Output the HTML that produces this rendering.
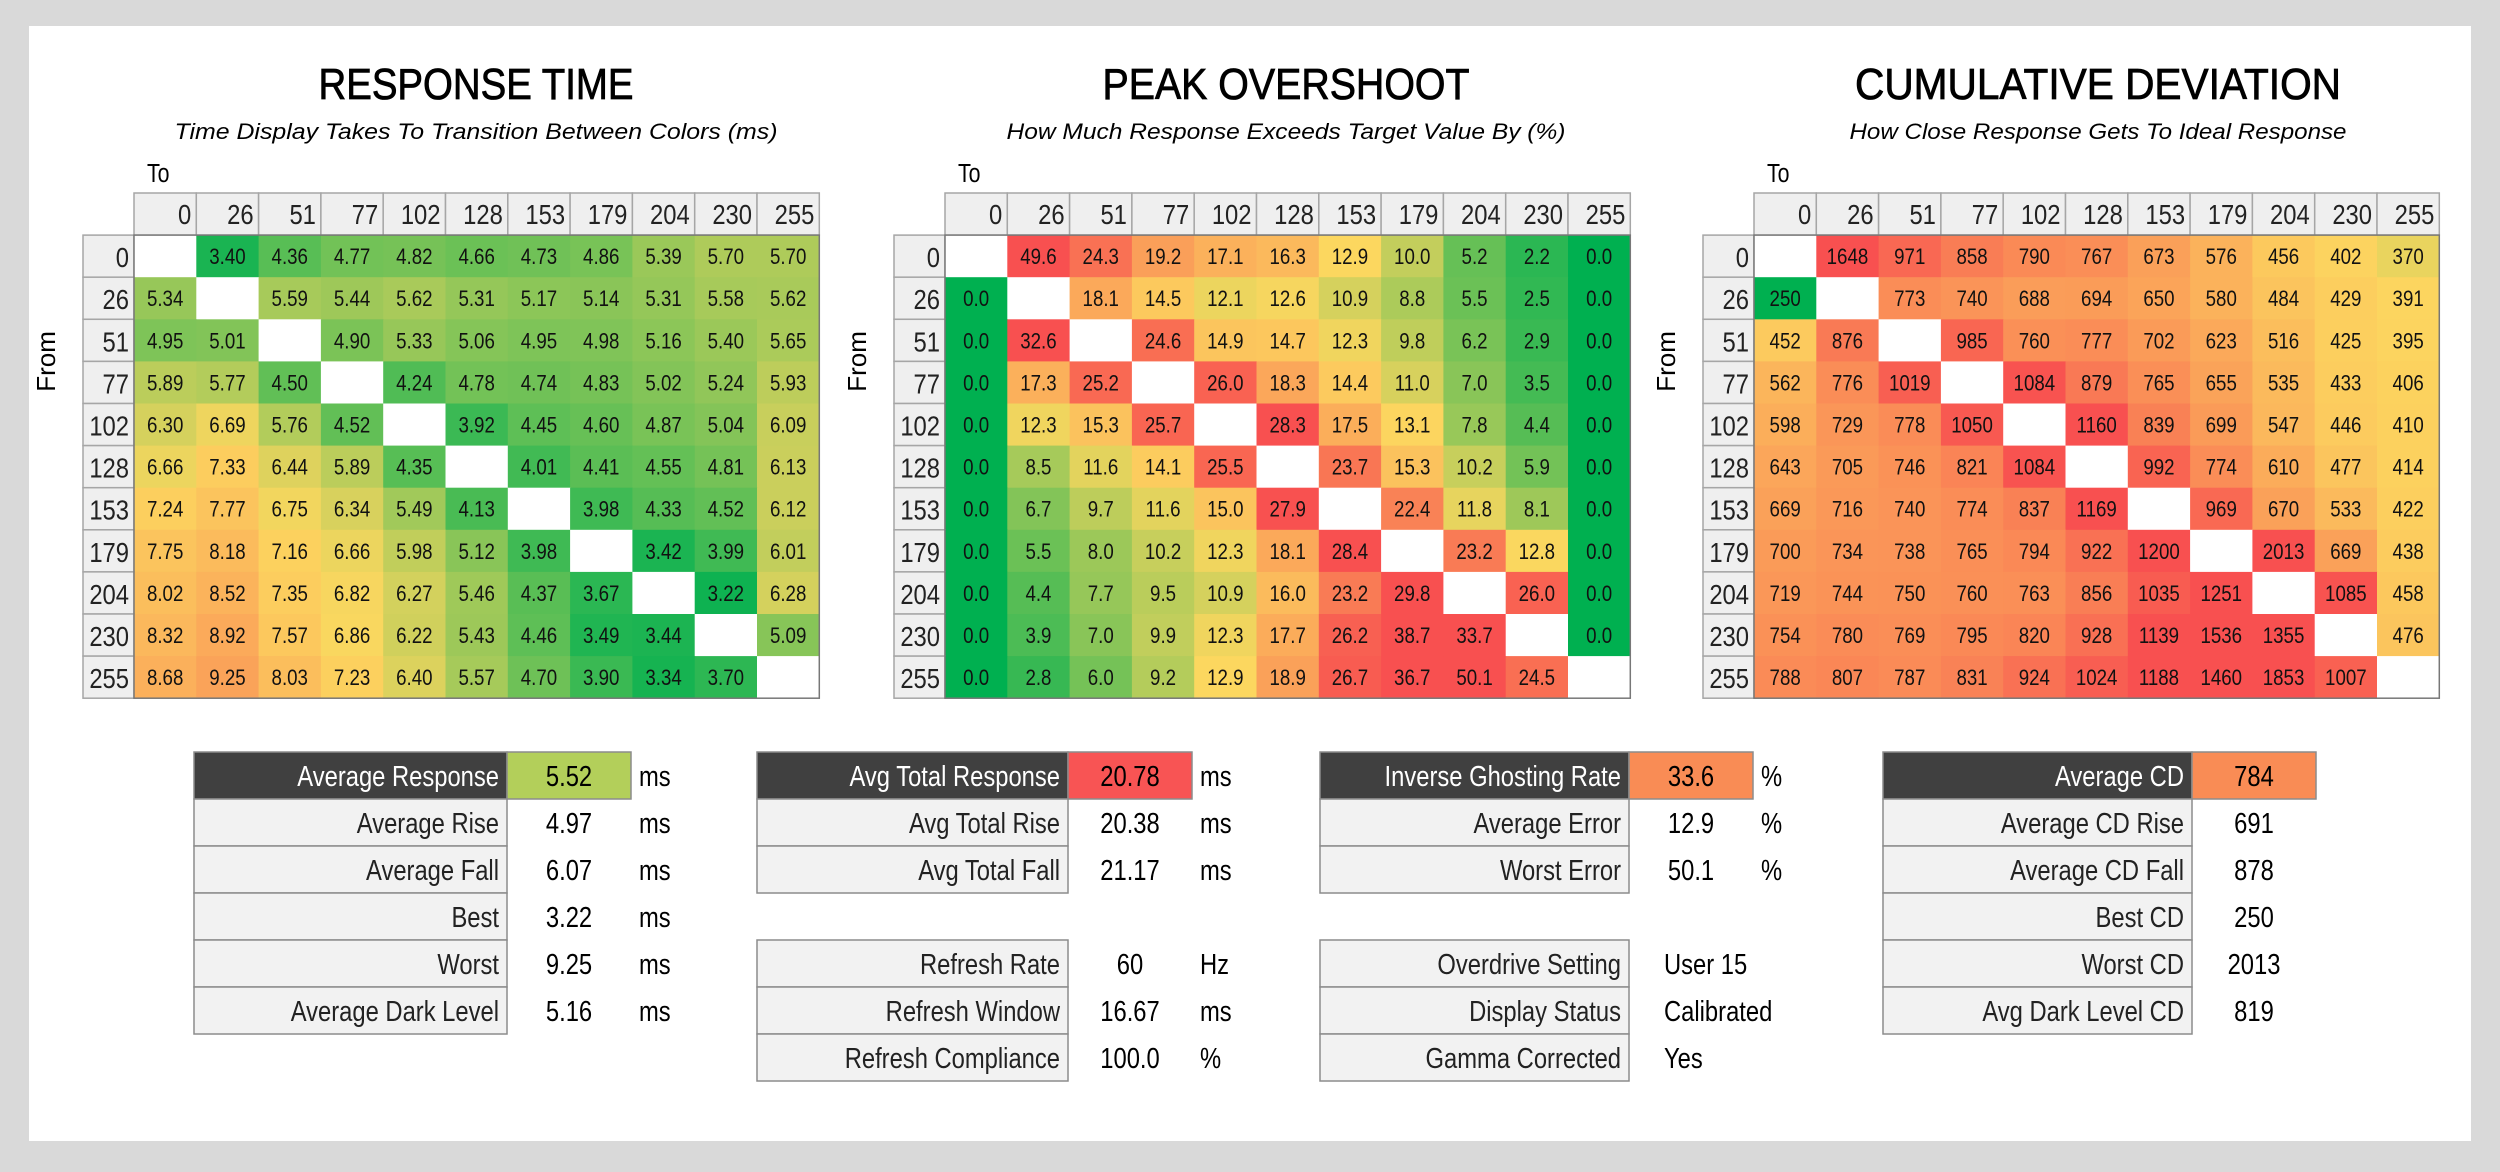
<!DOCTYPE html>
<html><head><meta charset="utf-8"><style>
html,body{margin:0;padding:0;background:#d9d9d9;}
svg{display:block;}
text{font-family:"Liberation Sans",sans-serif;}
</style></head><body>
<svg id="chart" xmlns="http://www.w3.org/2000/svg" width="2500" height="1172" viewBox="0 0 2500 1172">
<rect x="0" y="0" width="2500" height="1172" fill="#d9d9d9"/>
<rect x="29" y="26" width="2442" height="1115" fill="#ffffff"/>
</svg>
<script>
const levels = ["0","26","51","77","102","128","153","179","204","230","255"];
const rtValues = [
[null,3.40,4.36,4.77,4.82,4.66,4.73,4.86,5.39,5.70,5.70],
[5.34,null,5.59,5.44,5.62,5.31,5.17,5.14,5.31,5.58,5.62],
[4.95,5.01,null,4.90,5.33,5.06,4.95,4.98,5.16,5.40,5.65],
[5.89,5.77,4.50,null,4.24,4.78,4.74,4.83,5.02,5.24,5.93],
[6.30,6.69,5.76,4.52,null,3.92,4.45,4.60,4.87,5.04,6.09],
[6.66,7.33,6.44,5.89,4.35,null,4.01,4.41,4.55,4.81,6.13],
[7.24,7.77,6.75,6.34,5.49,4.13,null,3.98,4.33,4.52,6.12],
[7.75,8.18,7.16,6.66,5.98,5.12,3.98,null,3.42,3.99,6.01],
[8.02,8.52,7.35,6.82,6.27,5.46,4.37,3.67,null,3.22,6.28],
[8.32,8.92,7.57,6.86,6.22,5.43,4.46,3.49,3.44,null,5.09],
[8.68,9.25,8.03,7.23,6.40,5.57,4.70,3.90,3.34,3.70,null]];
const osValues = [
[null,49.6,24.3,19.2,17.1,16.3,12.9,10.0,5.2,2.2,0.0],
[0.0,null,18.1,14.5,12.1,12.6,10.9,8.8,5.5,2.5,0.0],
[0.0,32.6,null,24.6,14.9,14.7,12.3,9.8,6.2,2.9,0.0],
[0.0,17.3,25.2,null,26.0,18.3,14.4,11.0,7.0,3.5,0.0],
[0.0,12.3,15.3,25.7,null,28.3,17.5,13.1,7.8,4.4,0.0],
[0.0,8.5,11.6,14.1,25.5,null,23.7,15.3,10.2,5.9,0.0],
[0.0,6.7,9.7,11.6,15.0,27.9,null,22.4,11.8,8.1,0.0],
[0.0,5.5,8.0,10.2,12.3,18.1,28.4,null,23.2,12.8,0.0],
[0.0,4.4,7.7,9.5,10.9,16.0,23.2,29.8,null,26.0,0.0],
[0.0,3.9,7.0,9.9,12.3,17.7,26.2,38.7,33.7,null,0.0],
[0.0,2.8,6.0,9.2,12.9,18.9,26.7,36.7,50.1,24.5,null]];
const cdValues = [
[null,1648,971,858,790,767,673,576,456,402,370],
[250,null,773,740,688,694,650,580,484,429,391],
[452,876,null,985,760,777,702,623,516,425,395],
[562,776,1019,null,1084,879,765,655,535,433,406],
[598,729,778,1050,null,1160,839,699,547,446,410],
[643,705,746,821,1084,null,992,774,610,477,414],
[669,716,740,774,837,1169,null,969,670,533,422],
[700,734,738,765,794,922,1200,null,2013,669,438],
[719,744,750,760,763,856,1035,1251,null,1085,458],
[754,780,769,795,820,928,1139,1536,1355,null,476],
[788,807,787,831,924,1024,1188,1460,1853,1007,null]];

const t1Labels = ["Average Response","Average Rise","Average Fall","Best","Worst","Average Dark Level"];
const t1Values = ["5.52","4.97","6.07","3.22","9.25","5.16"];
const t2aLabels = ["Avg Total Response","Avg Total Rise","Avg Total Fall"];
const t2aValues = ["20.78","20.38","21.17"];
const t2bLabels = ["Refresh Rate","Refresh Window","Refresh Compliance"];
const t2bValues = ["60","16.67","100.0"];
const t2bUnits = ["Hz","ms","%"];
const t3aLabels = ["Inverse Ghosting Rate","Average Error","Worst Error"];
const t3aValues = ["33.6","12.9","50.1"];
const t3bLabels = ["Overdrive Setting","Display Status","Gamma Corrected"];
const t3bValues = ["User 15","Calibrated","Yes"];
const t4Labels = ["Average CD","Average CD Rise","Average CD Fall","Best CD","Worst CD","Avg Dark Level CD"];
const t4Values = ["784","691","878","250","2013","819"];

const NS = "http://www.w3.org/2000/svg";
const svg = document.getElementById("chart");
const GREEN=[0,176,80], YEL=[252,215,95], RED=[248,80,80];
function mix(a,b,t){t=Math.max(0,Math.min(1,t));return "rgb("+a.map((v,i)=>Math.round(v+(b[i]-v)*t)).join(",")+")";}
function scaleColor(v,lo,mid,hi){ if(v<=mid) return mix(GREEN,YEL,(v-lo)/(mid-lo)); return mix(YEL,RED,(v-mid)/(hi-mid)); }
function mkRect(x,y,w,h,fill,stroke){const r=document.createElementNS(NS,"rect");r.setAttribute("x",x);r.setAttribute("y",y);r.setAttribute("width",w);r.setAttribute("height",h);r.setAttribute("fill",fill);if(stroke){r.setAttribute("stroke",stroke);r.setAttribute("stroke-width","1.5");}svg.appendChild(r);return r;}
function mkText(x,y,str,size,anchor,fill,sx,extra){const g=document.createElementNS(NS,"g");g.setAttribute("transform","translate("+x+","+y+") scale("+(sx||0.82)+",1)");const t=document.createElementNS(NS,"text");t.setAttribute("x",0);t.setAttribute("y",0);t.setAttribute("font-size",size);t.setAttribute("text-anchor",anchor||"start");t.setAttribute("fill",fill||"#000");if(extra)for(const k in extra)t.setAttribute(k,extra[k]);t.textContent=str;g.appendChild(t);svg.appendChild(g);return t;}

function drawPanel(off,titleCx,title,titleW,sub,subW,values,lo,mid,hi,fmt,key){
  let e;
  e=mkText(titleCx,99,title,44,"middle","#000",1,{"textLength":titleW,"lengthAdjust":"spacingAndGlyphs","stroke":"#000","stroke-width":"0.8"});
  
  
  e=mkText(titleCx,139,sub,22,"middle","#000",1,{"font-style":"italic","textLength":subW,"lengthAdjust":"spacingAndGlyphs"});
  
  
  const x0=83+off, cx0=134+off, cw=62.3, y0=193, rh=42.1;
  e=mkText(x0+64,182,"To",26,"start");
  
  
  e=mkText(0,0,"From",26,"middle","#000",1,{"transform":"rotate(-90)"});
  e.parentNode.setAttribute("transform","translate("+(x0-28)+","+(y0+rh+3*rh)+")");
  
  
  for(let j=0;j<levels.length;j++){
    e=mkRect(cx0+j*cw,y0,cw,rh,"#efefef","#a6a6a6");
    
    
    e=mkText(cx0+(j+1)*cw-5,y0+31,levels[j],28,"end","#222",0.85);
    
    
  }
  for(let i=0;i<levels.length;i++){
    const y=y0+(i+1)*rh;
    e=mkRect(x0,y,cx0-x0,rh,"#efefef","#a6a6a6");
    
    
    e=mkText(cx0-5,y+32,levels[i],28,"end","#222",0.85);
    
    
    for(let j=0;j<levels.length;j++){
      const v=values[i][j];
      const fill = v===null ? "#ffffff" : scaleColor(v,lo,mid,hi);
      e=mkRect(cx0+j*cw,y,cw+0.5,rh+0.5,fill,null);
      
      
      if(v!==null){
        e=mkText(cx0+j*cw+cw/2,y+29,fmt(v),22,"middle","#111",0.85);
        
        
      }
    }
  }
  const b=document.createElementNS(NS,"rect");
  b.setAttribute("x",cx0);b.setAttribute("y",y0+rh);b.setAttribute("width",cw*11);b.setAttribute("height",rh*11);
  b.setAttribute("fill","none");b.setAttribute("stroke","#777");b.setAttribute("stroke-width","1.5");
  
  
  svg.appendChild(b);
}
drawPanel(0,476,"RESPONSE TIME",315,"Time Display Takes To Transition Between Colors (ms)",603,rtValues,3.0,6.9,13,v=>v.toFixed(2),"response-time");
drawPanel(811,1286,"PEAK OVERSHOOT",367,"How Much Response Exceeds Target Value By (%)",559,osValues,0,12.9,28,v=>v.toFixed(1),"peak-overshoot");
drawPanel(1620,2098,"CUMULATIVE DEVIATION",486,"How Close Response Gets To Ideal Response",497,cdValues,250,380,1100,v=>String(v),"cumulative-deviation");

const RH=47, TY=752;
function statRow(key,lL,lR,vR,y,label,value,unit,dark,hi,valLeft){
  let e;
  e=mkRect(lL,y,lR-lL,RH,dark?"#404040":"#f2f2f2","#8c8c8c");
  
  
  if(hi){
    e=mkRect(lR,y,vR-lR,RH,hi,"#8c8c8c");
    
    
  }
  e=mkText(lR-8,y+34,label,29,"end",dark?"#ffffff":"#222",0.82);
  
  
  e=valLeft? mkText(lR+35,y+34,value,29,"start","#000",0.82) : mkText((lR+vR)/2,y+34,value,29,"middle","#000",0.82);
  
  
  if(unit){
    e=mkText(vR+8,y+34,unit,29,"start","#000",0.82);
    
    
  }
}
for(let k=0;k<t1Labels.length;k++) statRow("response-stat",194,507,631,TY+k*RH,t1Labels[k],t1Values[k],"ms",k===0,k===0?"#b3cf5a":null,false);
for(let k=0;k<3;k++) statRow("overshoot-stat",757,1068,1192,TY+k*RH,t2aLabels[k],t2aValues[k],"ms",k===0,k===0?"#f85454":null,false);
for(let k=0;k<3;k++) statRow("refresh-stat",757,1068,1192,TY+(k+4)*RH,t2bLabels[k],t2bValues[k],t2bUnits[k],false,null,false);
for(let k=0;k<3;k++) statRow("ghosting-stat",1320,1629,1753,TY+k*RH,t3aLabels[k],t3aValues[k],"%",k===0,k===0?"#f98c55":null,false);
for(let k=0;k<3;k++) statRow("setting-stat",1320,1629,1753,TY+(k+4)*RH,t3bLabels[k],t3bValues[k],null,false,null,true);
for(let k=0;k<t4Labels.length;k++) statRow("cd-stat",1883,2192,2316,TY+k*RH,t4Labels[k],t4Values[k],null,k===0,k===0?"#f98c55":null,false);
</script>
</body></html>
